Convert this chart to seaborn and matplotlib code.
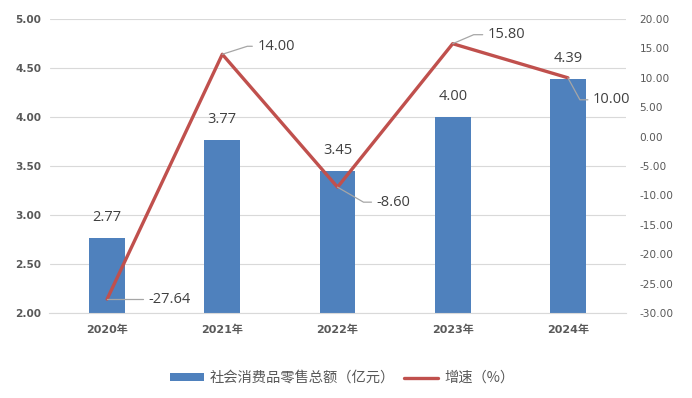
import matplotlib
matplotlib.use("Agg")
import matplotlib.pyplot as plt
import matplotlib.transforms as mtransforms
from matplotlib.lines import Line2D
from matplotlib.patches import Patch
import seaborn as sns
import pandas as pd

years = ["2020年", "2021年", "2022年", "2023年", "2024年"]
sales = [2.77, 3.77, 3.45, 4.00, 4.39]
growth = [-27.64, 14.00, -8.60, 15.80, 10.00]
sales_label = "社会消费品零售总额（亿元）"
growth_label = "增速（%）"

sns.set_theme(style="white")
plt.rcParams["font.family"] = ["DejaVu Sans", "Noto Sans CJK SC"]

BAR = "#4F81BD"
LINE = "#C0504D"
TICK = "#595959"
LBL = "#404040"

df = pd.DataFrame({"year": years, "sales": sales, "growth": growth})

fig = plt.figure(figsize=(6.92, 3.98), dpi=100)
ax = fig.add_axes([49.5 / 692, 1 - 313 / 398, 576 / 692, 294 / 398])
sns.barplot(data=df, x="year", y="sales", color=BAR, width=0.31, ax=ax,
            saturation=1, zorder=2, edgecolor="none")
ax.set_ylim(2.0, 5.0)
ax.set_xlim(-0.5, 4.5)
ax.set_yticks([2.0, 2.5, 3.0, 3.5, 4.0, 4.5, 5.0])
ax.set_yticklabels([f"{v:.2f}" for v in ax.get_yticks()], fontsize=7.6,
                   fontweight="bold", color=TICK)
ax.grid(axis="y", color="#D9D9D9", linewidth=0.8, zorder=0)
ax.set_axisbelow(True)
ax.set_xlabel("")
ax.set_ylabel("")
for s in ["top", "right", "left"]:
    ax.spines[s].set_visible(False)
ax.spines["bottom"].set_color("#D9D9D9")
ax.spines["bottom"].set_linewidth(0.8)
ax.tick_params(axis="both", length=0, pad=6)
ax.tick_params(axis="x", pad=8)
for t in ax.get_xticklabels():
    t.set_fontsize(8)
    t.set_fontweight("bold")
    t.set_color(TICK)
    t.set_family(["DejaVu Sans", "Noto Sans CJK SC"])

for i, v in enumerate(sales):
    ax.annotate(f"{v:.2f}", xy=(i, v), xytext=(0, 20), textcoords="offset pixels",
                ha="center", va="center", fontsize=10.5, color=LBL,
                family=["Open Sans", "DejaVu Sans"])

ax2 = ax.twinx()
sns.lineplot(x=list(range(len(years))), y=growth, color=LINE, linewidth=2.4,
             ax=ax2, zorder=3)
ax2.set_ylim(-30, 20)
ax2.set_xlim(-0.5, 4.5)
ax2.set_yticks(list(range(-30, 25, 5)))
ax2.set_yticklabels([f"{v:.2f}" for v in range(-30, 25, 5)], fontsize=7.6,
                    color=TICK)
ax2.tick_params(axis="y", length=0, pad=10)
for s in ax2.spines.values():
    s.set_visible(False)
ax2.grid(False)

# leader lines: (elbow dx, dy), (end dx, dy), in pixels (image y downward)
leaders = [
    ((18, 0), (36, 0)),
    ((25, -8), (30, -8)),
    ((26, 15), (34, 15)),
    ((21, -9), (30, -9)),
    ((12, 22), (20, 22)),
]
fig.canvas.draw()
for i, v in enumerate(growth):
    px, py = ax2.transData.transform((i, v))
    (ex, ey), (tx, ty) = leaders[i]
    tr = mtransforms.Affine2D().translate(px, py)
    ln = Line2D([0, ex, tx], [0, -ey, -ty], transform=tr, color="#A6A6A6",
                linewidth=0.9, zorder=4)
    fig.add_artist(ln)
    ax2.annotate(f"{v:.2f}", xy=(i, v), xytext=(tx + 5, -ty),
                 textcoords="offset pixels", ha="left", va="center",
                 fontsize=10.5, color=LBL, family=["Open Sans", "DejaVu Sans"])

handles = [Patch(facecolor=BAR, edgecolor="none"),
           Line2D([0], [0], color=LINE, linewidth=2.4)]
leg = fig.legend(handles, [sales_label, growth_label], loc="center",
                 bbox_to_anchor=(342 / 692, 1 - 378 / 398), ncol=2,
                 frameon=False, handlelength=2.4,
                 handleheight=0.45, handletextpad=0.4, columnspacing=0.6,
                 prop={"family": ["Noto Sans CJK SC", "DejaVu Sans"], "size": 10.3})
for t in leg.get_texts():
    t.set_color(TICK)

fig.savefig("out.png", dpi=100)
